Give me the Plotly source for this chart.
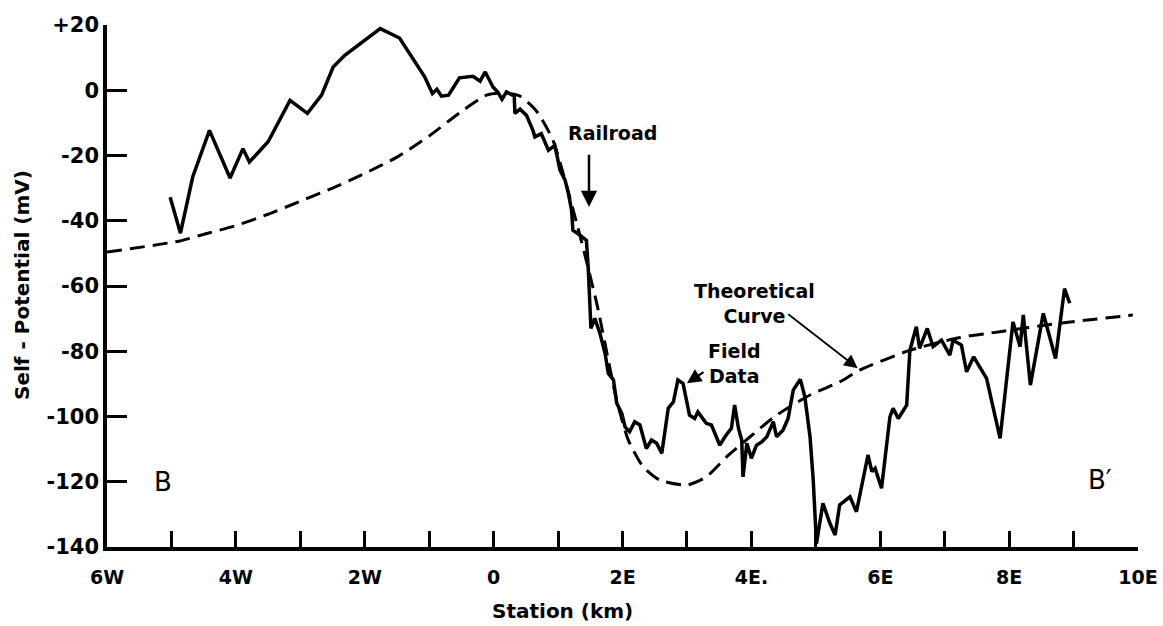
import plotly.graph_objects as go

# Field data (station km, self-potential mV)
field_km = [-5.02, -4.86, -4.67, -4.41, -4.09, -3.89, -3.79, -3.50, -3.16, -2.89,
            -2.67, -2.49, -2.31, -1.76, -1.46, -1.07, -0.95, -0.88, -0.81, -0.70,
            -0.53, -0.32, -0.21, -0.13, -0.01, 0.07, 0.13, 0.20, 0.32, 0.33,
            0.41, 0.51, 0.61, 0.64, 0.74, 0.85, 0.95, 1.03, 1.11, 1.16,
            1.21, 1.23, 1.34, 1.44, 1.47, 1.49, 1.51, 1.57, 1.65, 1.73,
            1.78, 1.86, 1.91, 1.99, 2.04, 2.11, 2.19, 2.27, 2.37, 2.45,
            2.53, 2.61, 2.71, 2.79, 2.86, 2.94, 3.04, 3.12, 3.17, 3.30,
            3.38, 3.51, 3.59, 3.69, 3.74, 3.80, 3.85, 3.87, 3.93, 4.00,
            4.08, 4.16, 4.24, 4.34, 4.39, 4.49, 4.57, 4.65, 4.76, 4.83,
            4.91, 4.96, 5.01, 5.11, 5.22, 5.30, 5.37, 5.53, 5.63, 5.81,
            5.87, 5.92, 6.02, 6.15, 6.20, 6.28, 6.41, 6.46, 6.56, 6.61,
            6.73, 6.82, 6.95, 7.08, 7.13, 7.26, 7.34, 7.45, 7.65, 7.86,
            8.06, 8.17, 8.22, 8.33, 8.53, 8.72, 8.86, 8.94]
field_mv = [-32.8, -43.8, -26.6, -12.3, -26.9, -17.9, -22.0, -15.8, -3.1, -7.1,
            -1.5, 7.1, 10.7, 18.9, 16.0, 4.1, -1.0, 0.3, -1.8, -1.5,
            3.8, 4.3, 2.8, 5.6, 1.0, -0.7, -2.8, -0.5, -1.8, -7.1,
            -5.8, -7.7, -12.3, -14.3, -13.3, -18.4, -16.9, -24.5, -27.6, -31.6,
            -36.8, -42.9, -44.4, -46.0, -55.1, -63.3, -73.0, -69.9, -74.5, -80.7,
            -86.8, -88.8, -95.9, -99.1, -103.2, -104.7, -101.6, -102.6, -109.8, -107.2,
            -108.2, -111.3, -97.5, -95.5, -88.8, -89.9, -99.6, -100.6, -98.6, -102.1,
            -102.6, -108.8, -106.2, -103.6, -96.5, -103.6, -107.2, -118.5, -108.2, -112.8,
            -108.8, -107.8, -106.2, -101.6, -106.2, -104.2, -100.6, -91.9, -88.6, -94.0,
            -106.2, -119.5, -139.0, -126.6, -132.8, -136.3, -127.1, -124.6, -129.2, -111.8,
            -116.9, -115.9, -122.0, -100.1, -97.5, -100.6, -96.5, -79.7, -72.5, -79.1,
            -73.0, -78.6, -76.6, -81.2, -76.6, -78.1, -86.3, -81.7, -88.3, -106.7,
            -71.0, -78.6, -68.9, -90.4, -68.4, -82.2, -60.8, -65.3]

# Theoretical curve
theory_km = [-6.0, -4.87, -4.45, -4.0, -3.5, -3.0, -2.5, -2.0, -1.5, -1.0,
             -0.5, -0.11, 0.15, 0.41, 0.67, 0.92, 1.29, 1.6, 1.91, 2.09,
             2.32, 2.58, 3.0, 3.3, 3.62, 3.98, 4.39, 4.91, 5.37, 5.68,
             6.46, 7.24, 7.86, 8.74, 9.92]
theory_mv = [-49.6, -46.2, -43.9, -41.5, -38.0, -34.0, -30.0, -25.5, -20.5, -14.0,
             -6.5, -1.5, -0.8, -1.8, -6.5, -15.3, -40.8, -65.3, -95.0, -107.2,
             -115.4, -119.5, -121.0, -118.5, -112.3, -106.2, -99.6, -93.4, -89.4, -85.8,
             -79.7, -75.8, -74.0, -71.5, -68.9]

x_tickvals = list(range(-6, 11))
x_ticktext = ["6W", "", "4W", "", "2W", "", "0", "", "2E", "", "4E.", "", "6E", "", "8E", "", "10E"]
y_tickvals = [20, 0, -20, -40, -60, -80, -100, -120, -140]
y_ticktext = ["+20", "0", "-20", "-40", "-60", "-80", "-100", "-120", "-140"]

FONT = "DejaVu Sans"

fig = go.Figure()
fig.add_trace(go.Scatter(x=theory_km, y=theory_mv, mode="lines",
                         line=dict(color="black", width=3, dash="15px,8px", shape="spline", smoothing=0.6),
                         hoverinfo="skip", showlegend=False))
fig.add_trace(go.Scatter(x=field_km, y=field_mv, mode="lines",
                         line=dict(color="black", width=3.5),
                         hoverinfo="skip", showlegend=False))

annotations = [
    dict(x=1.84, y=-13.2, text="Railroad", showarrow=False,
         font=dict(family=FONT, size=19, color="black", weight="bold")),
    dict(x=1.48, y=-35.8, ax=1.48, ay=-19.3, axref="x", ayref="y", text="",
         showarrow=True, arrowhead=2, arrowsize=1.3, arrowwidth=2.5, arrowcolor="black"),
    dict(x=4.05, y=-65.3, text="Theoretical<br>Curve", showarrow=False,
         font=dict(family=FONT, size=19, color="black", weight="bold")),
    dict(x=5.65, y=-85.2, ax=4.55, ay=-68.3, axref="x", ayref="y", text="",
         showarrow=True, arrowhead=2, arrowsize=1.5, arrowwidth=1.8, arrowcolor="black"),
    dict(x=3.74, y=-83.6, text="Field<br>Data", showarrow=False,
         font=dict(family=FONT, size=19, color="black", weight="bold")),
    dict(x=3.0, y=-89.8, ax=3.28, ay=-86.1, axref="x", ayref="y", text="",
         showarrow=True, arrowhead=2, arrowsize=1.3, arrowwidth=2.2, arrowcolor="black"),
    dict(x=-5.13, y=-120.1, text="B", showarrow=False,
         font=dict(family=FONT, size=26, color="black")),
    dict(x=9.41, y=-119.5, text="B′", showarrow=False,
         font=dict(family=FONT, size=26, color="black")),
    dict(xref="paper", yref="paper", x=-0.0824, y=0.502, xanchor="center", yanchor="middle",
         text="Self - Potential (mV)", textangle=-90, showarrow=False,
         font=dict(family=FONT, size=20, color="black", weight="bold")),
    dict(xref="paper", yref="paper", x=0.442, y=-0.1226, xanchor="center", yanchor="middle",
         text="Station (km)", showarrow=False,
         font=dict(family=FONT, size=20, color="black", weight="bold")),
]

fig.update_layout(
    width=1163, height=626,
    margin=dict(l=107, r=25, t=25, b=79, autoexpand=False),
    paper_bgcolor="white", plot_bgcolor="white",
    annotations=annotations,
    font=dict(family=FONT, color="black"),
)
fig.update_xaxes(range=[-6, 10], showgrid=False, zeroline=False, automargin=False,
                 showline=True, linecolor="black", linewidth=3.5,
                 ticks="inside", ticklen=16, tickwidth=3, tickcolor="black",
                 tickmode="array", tickvals=x_tickvals, ticktext=x_ticktext,
                 ticklabelstandoff=10,
                 tickfont=dict(family=FONT, size=19, color="black", weight="bold"))
fig.update_yaxes(range=[-140, 20], showgrid=False, zeroline=False, automargin=False,
                 showline=True, linecolor="black", linewidth=3.5,
                 ticks="inside", ticklen=20, tickwidth=3, tickcolor="black",
                 tickmode="array", tickvals=y_tickvals, ticktext=y_ticktext,
                 tickfont=dict(family=FONT, size=21, color="black", weight="bold"))

fig.write_html("out.html")
